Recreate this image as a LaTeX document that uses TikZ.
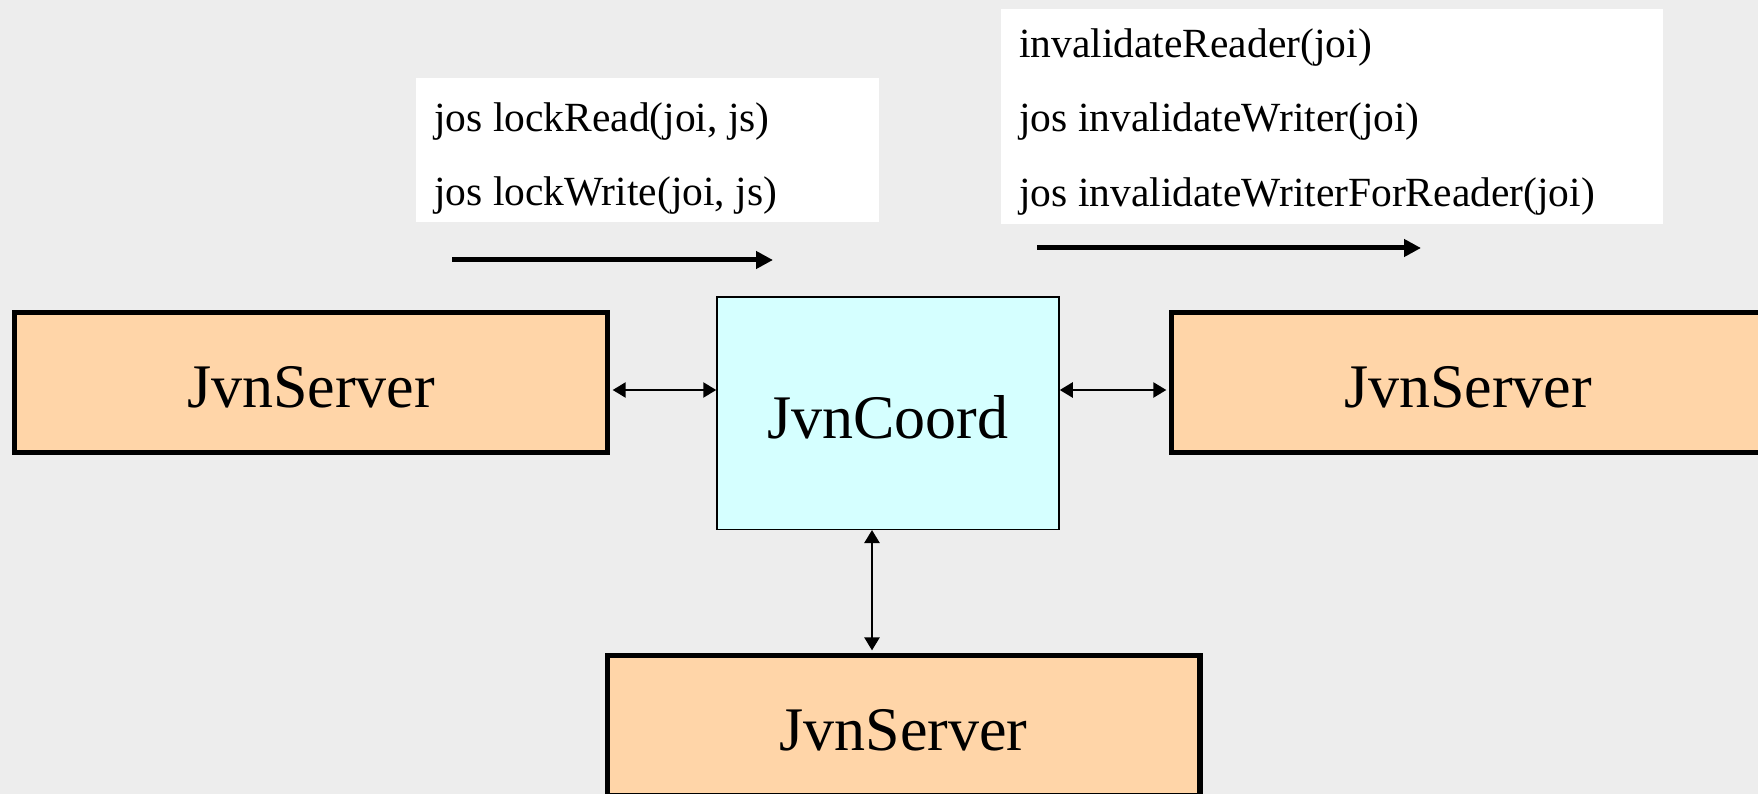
\documentclass[tikz,border=0pt]{standalone}
\usepackage{fontspec}
\setmainfont{Liberation Serif}
\usetikzlibrary{arrows.meta}
\definecolor{bg}{HTML}{EDEDED}
\definecolor{peach}{HTML}{FFD5A8}
\definecolor{ice}{HTML}{D5FFFF}
% lower a box label a little without changing its reported size
\newcommand\boxlabel[1]{\raisebox{-4.5pt}[\height][\depth]{#1}}
\tikzset{
  server/.style={draw=black, line width=5.3pt, fill=peach, minimum width=592.7pt,
    minimum height=140pt, inner sep=0pt, font=\fontsize{62}{70}\selectfont},
  coordbox/.style={draw=black, line width=1.5pt, fill=ice, minimum width=342pt,
    minimum height=232.5pt, inner sep=0pt, font=\fontsize{62}{70}\selectfont},
  panel/.style={fill=white, draw=none, inner sep=0pt},
  call/.style={anchor=base west, inner sep=0pt, font=\fontsize{41.5}{48}\selectfont},
  dbl/.style={line width=2.4pt, {Triangle[length=13pt,width=15pt]}-{Triangle[length=13pt,width=15pt]}},
  flow/.style={line width=5pt, -{Triangle[length=17pt,width=17pt]}}
}
\begin{document}
\begin{tikzpicture}[x=1pt, y=-1pt]
  % page background
  \fill[bg] (0,0) rectangle (1758,794);
  \useasboundingbox (0,0) rectangle (1758,794);

  % message panels
  \node[panel, minimum width=463pt, minimum height=144pt] (lpanel) at (647.5,150) {};
  \node[panel, minimum width=662pt, minimum height=215pt] (rpanel) at (1332,116.5) {};

  \node[call] (m1) at (434,132) {jos lockRead(joi, js)};
  \node[call] (m2) at (434,206) {jos lockWrite(joi, js)};
  \node[call] (m3) at (1019,58) {invalidateReader(joi)};
  \node[call] (m4) at (1019,132) {jos invalidateWriter(joi)};
  \node[call] (m5) at (1019,207) {jos invalidateWriterForReader(joi)};

  % direction arrows under the panels
  \coordinate (a1s) at (452,260);
  \coordinate (a1e) at (773,260);
  \coordinate (a2s) at (1037,248);
  \coordinate (a2e) at (1421,248);
  \draw[flow] (a1s) -- (a1e);
  \draw[flow] (a2s) -- (a2e);

  % components
  \node[server] (ls) at (311,382.5) {\boxlabel{JvnServer}};
  \node[server] (rs) at (1468,382.5) {\boxlabel{JvnServer}};
  \node[server] (bs) at (903.5,725.7) {\boxlabel{JvnServer}};
  \node[coordbox] (jc) at (888,413) {\boxlabel{JvnCoord}};

  % links between servers and coordinator
  \draw[dbl, shorten <=2.65pt] ([yshift=-7.5pt]ls.east) -- ([yshift=-7.5pt]ls.east -| jc.west);
  \draw[dbl, shorten >=2.65pt] ([yshift=-7.5pt]rs.west -| jc.east) -- ([yshift=-7.5pt]rs.west);
  \draw[dbl, shorten >=2.65pt] ([xshift=-16pt]jc.south) -- ([xshift=-16pt]jc.south |- bs.north);
\end{tikzpicture}
\end{document}
